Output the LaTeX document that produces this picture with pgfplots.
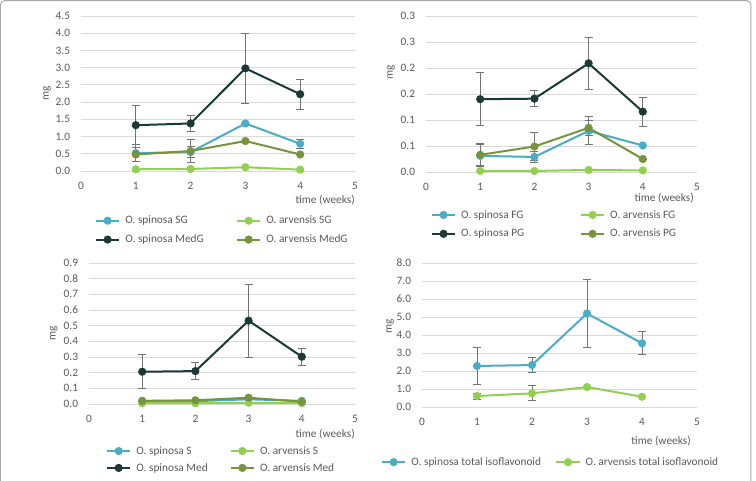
\documentclass[border=0pt]{standalone}
\usepackage{pgfplots}
\pgfplotsset{compat=1.18}
\usepackage{fontspec}
\setmainfont{Carlito}
\definecolor{cblue}{RGB}{75,172,198}
\definecolor{cgreen}{RGB}{146,208,80}
\definecolor{cdark}{RGB}{27,58,54}
\definecolor{colive}{RGB}{119,147,60}
\definecolor{ctext}{RGB}{89,89,89}
\definecolor{cgrid}{RGB}{217,217,217}
\definecolor{cerr}{RGB}{115,115,115}
\pgfplotsset{
 panel/.style={
  scale only axis, xmin=0, xmax=5, xtick={0,1,2,3,4,5}, ymin=0,
  axis line style={draw=none}, major tick length=0pt,
  ymajorgrids, grid style={cgrid, line width=0.75pt},
  tick label style={text=ctext},
  /pgf/number format/assume math mode=true,
  yticklabel style={anchor=east, inner sep=0pt, xshift=-8pt},
  xticklabel style={anchor=center, inner sep=0pt, yshift=-11.25pt},
  label style={text=ctext, inner sep=0pt},
  clip=false,
  legend style={draw=none, fill=none, inner sep=0pt, outer sep=0pt, anchor=north west, text=ctext,
    nodes={inner sep=0pt},
    /tikz/every odd column/.append style={column sep=3.75pt},
    row sep=7pt},
  legend columns=2,
  legend cell align=left,
  legend image code/.code={\draw[mark repeat=2,mark phase=2,##1] plot coordinates {(0pt,0pt) (8.75pt,0pt) (17.5pt,0pt)};},
 },
 ser/.style={color=#1, line width=1.5pt, mark=*, mark size=2.8pt, mark options={solid, fill=#1, draw=#1, line width=0.5pt}},
 eb/.style={error bars/.cd, y dir=both, y explicit, error bar style={cerr, line width=0.7pt}, error mark options={cerr, rotate=90, mark size=3pt, line width=0.7pt}},
}
\begin{document}
\fontsize{8.5}{10.2}\selectfont
\begin{tikzpicture}
\useasboundingbox (0pt,0pt) rectangle (567pt,360pt);
\draw[gray!70, line width=0.7pt, rounded corners=3pt] (0.4pt,-2pt) -- (0.4pt,359.5pt) -- (563.2pt,359.5pt) -- (563.2pt,-2pt);

% Panel 1
\begin{axis}[panel, at={(60.75pt,231.75pt)}, anchor=south west, width=205.5pt, height=116.25pt,
  ymax=4.5, ytick={0,0.5,1,1.5,2,2.5,3,3.5,4,4.5},
  yticklabel style={/pgf/number format/.cd, fixed, fixed zerofill, precision=1},
  xlabel={time (weeks)}, xlabel style={at={(axis description cs:1,-0.187)}, anchor=east},
  ylabel={mg}, ylabel style={at={(axis description cs:-0.124,0.5)}, anchor=center, rotate=0},
  legend style={at={(axis description cs:0.051,-0.29)}}]
\addplot[ser=cblue, eb] coordinates {(1,0.52) +- (0,0.25) (2,0.55) +- (0,0.15) (3,1.38) +- (0,0) (4,0.79) +- (0,0.13)};
\addlegendentry{\makebox[83pt][l]{O. spinosa SG}}
\addplot[ser=cgreen] coordinates {(1,0.05) (2,0.06) (3,0.11) (4,0.04)};
\addlegendentry{O. arvensis SG}
\addplot[ser=cdark, eb] coordinates {(1,1.33) +- (0,0.56) (2,1.38) +- (0,0.23) (3,2.98) +- (0,1.01) (4,2.23) +- (0,0.43)};
\addlegendentry{\makebox[83pt][l]{O. spinosa MedG}}
\addplot[ser=colive, eb] coordinates {(1,0.48) +- (0,0.2) (2,0.58) +- (0,0.33) (3,0.87) +- (0,0) (4,0.48) +- (0,0)};
\addlegendentry{O. arvensis MedG}
\end{axis}

% Panel 2
\begin{axis}[panel, at={(319.5pt,231pt)}, anchor=south west, width=203.25pt, height=117pt,
  ymax=0.3, ytick={0,0.05,0.1,0.15,0.2,0.25,0.3},
  yticklabels={0.0,0.1,0.1,0.2,0.2,0.3,0.3},
  xlabel={time (weeks)}, xlabel style={at={(axis description cs:0.989,-0.168)}, anchor=east},
  ylabel={mg}, ylabel style={at={(axis description cs:-0.129,0.64)}, anchor=center, rotate=0},
  legend style={at={(axis description cs:0.018,-0.245)}}]
\addplot[ser=cblue, eb] coordinates {(1,0.031) +- (0,0.021) (2,0.029) +- (0,0.01) (3,0.079) +- (0,0.027) (4,0.051) +- (0,0)};
\addlegendentry{\makebox[89pt][l]{O. spinosa FG}}
\addplot[ser=cgreen] coordinates {(1,0.002) (2,0.002) (3,0.004) (4,0.003)};
\addlegendentry{O. arvensis FG}
\addplot[ser=cdark, eb] coordinates {(1,0.140) +- (0,0.051) (2,0.141) +- (0,0.015) (3,0.209) +- (0,0.05) (4,0.116) +- (0,0.028)};
\addlegendentry{\makebox[89pt][l]{O. spinosa PG}}
\addplot[ser=colive, eb] coordinates {(1,0.033) +- (0,0.021) (2,0.049) +- (0,0.027) (3,0.085) +- (0,0.015) (4,0.025) +- (0,0)};
\addlegendentry{O. arvensis PG}
\end{axis}

% Panel 3
\begin{axis}[panel, at={(66.75pt,57pt)}, anchor=south west, width=199.5pt, height=105.75pt,
  ymax=0.9, ytick={0,0.1,0.2,0.3,0.4,0.5,0.6,0.7,0.8,0.9},
  yticklabel style={/pgf/number format/.cd, fixed, fixed zerofill, precision=1},
  xlabel={time (weeks)}, xlabel style={at={(axis description cs:1,-0.213)}, anchor=east},
  ylabel={mg}, ylabel style={at={(axis description cs:-0.132,0.5)}, anchor=center, rotate=0},
  legend style={at={(axis description cs:0.064,-0.3)}, row sep=5.5pt}]
\addplot[ser=cblue] coordinates {(1,0.02) (2,0.018) (3,0.03) (4,0.02)};
\addlegendentry{\makebox[70pt][l]{O. spinosa S}}
\addplot[ser=cgreen] coordinates {(1,0.005) (2,0.005) (3,0.008) (4,0.005)};
\addlegendentry{O. arvensis S}
\addplot[ser=cdark, eb] coordinates {(1,0.206) +- (0,0.108) (2,0.21) +- (0,0.055) (3,0.532) +- (0,0.233) (4,0.302) +- (0,0.053)};
\addlegendentry{\makebox[70pt][l]{O. spinosa Med}}
\addplot[ser=colive] coordinates {(1,0.02) (2,0.024) (3,0.04) (4,0.015)};
\addlegendentry{O. arvensis Med}
\end{axis}

% Panel 4
\begin{axis}[panel, at={(316.5pt,54.75pt)}, anchor=south west, width=206.25pt, height=108pt,
  ymax=8, ytick={0,1,2,3,4,5,6,7,8},
  yticklabel style={/pgf/number format/.cd, fixed, fixed zerofill, precision=1},
  xlabel={time (weeks)}, xlabel style={at={(axis description cs:0.978,-0.236)}, anchor=east},
  ylabel={mg}, ylabel style={at={(axis description cs:-0.116,0.56)}, anchor=center, rotate=0},
  legend style={at={(axis description cs:-0.149,-0.35)}}]
\addplot[ser=cblue, eb] coordinates {(1,2.28) +- (0,1.03) (2,2.33) +- (0,0.43) (3,5.2) +- (0,1.91) (4,3.54) +- (0,0.63)};
\addlegendentry{\makebox[108pt][l]{O. spinosa total isoflavonoid}}
\addplot[ser=cgreen, eb] coordinates {(1,0.61) +- (0,0.17) (2,0.76) +- (0,0.42) (3,1.11) +- (0,0) (4,0.57) +- (0,0)};
\addlegendentry{O. arvensis total isoflavonoid}
\end{axis}
\end{tikzpicture}
\end{document}
